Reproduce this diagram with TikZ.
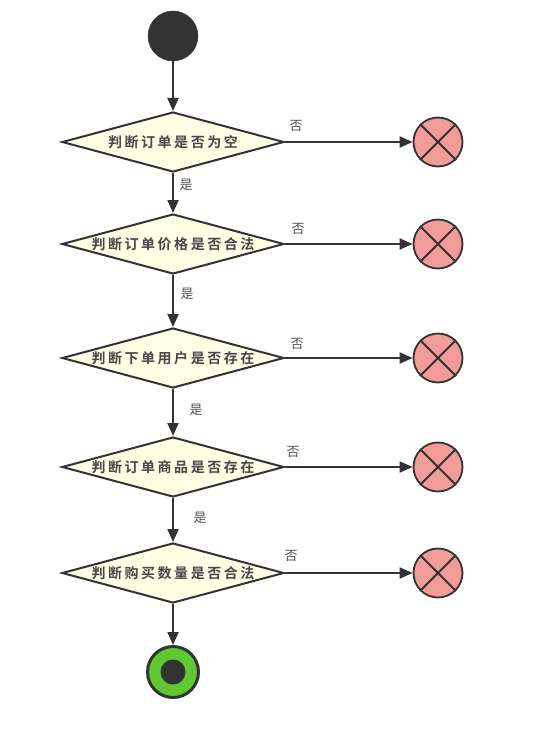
\documentclass[tikz,border=0pt]{standalone}
\usepackage{fontspec}
\newfontfamily\cjkb[LetterSpace=18]{Noto Sans CJK SC Bold}
\newfontfamily\cjk{Noto Sans CJK SC}
\usetikzlibrary{shapes.geometric,arrows.meta}
\definecolor{dk}{HTML}{333333}
\definecolor{ivory}{HTML}{FFFFE6}
\definecolor{pinkx}{HTML}{F19C99}
\definecolor{grn}{HTML}{5FC932}
\tikzset{
  decision/.style={diamond, draw=dk, line width=2pt, fill=ivory, inner sep=0pt,
    minimum width=222pt, minimum height=60pt, aspect=3.7,
    font=\cjkb\fontsize{14}{15}\selectfont, text=dk!90},
  startdot/.style={circle, fill=dk, draw=dk, minimum size=50pt, inner sep=0pt},
  stopx/.style={circle, fill=pinkx, draw=dk, line width=1.8pt, minimum size=49pt, inner sep=0pt},
  enddot/.style={circle, fill=grn, draw=dk, line width=3pt, minimum size=51pt, inner sep=0pt},
  innerdot/.style={circle, fill=dk, minimum size=25pt, inner sep=0pt},
  flow/.style={draw=dk, line width=2pt, -{Triangle[length=13pt,width=11pt]}},
  lbl/.style={font=\cjk\fontsize{13}{14}\selectfont, text=dk!85, inner sep=0pt}
}
\begin{document}
\begin{tikzpicture}[x=1pt,y=-1pt]
\useasboundingbox (0,0) rectangle (547,749);
\node[startdot] (s) at (173,36) {};
\node[decision] (d1) at (173,142) {判断订单是否为空};
\node[decision] (d2) at (173,244) {判断订单价格是否合法};
\node[decision] (d3) at (173,358) {判断下单用户是否存在};
\node[decision] (d4) at (173,467) {判断订单商品是否存在};
\node[decision] (d5) at (173,573) {判断购买数量是否合法};
\node[enddot] (e) at (173,672) {};
\node[innerdot] (ei) at (173,672) {};
\foreach \i/\y in {1/142,2/244,3/358,4/467,5/573}{
  \node[stopx] (x\i) at (438,\y) {};
  \draw[dk, line width=1.8pt] (x\i.north west) -- (x\i.south east) (x\i.north east) -- (x\i.south west);
  \draw[flow] (d\i.east) -- (x\i.west);
}
\draw[flow] (s) -- (d1.north);
\draw[flow] (d1.south) -- (d2.north);
\draw[flow] (d2.south) -- (d3.north);
\draw[flow] (d3.south) -- (d4.north);
\draw[flow] (d4.south) -- (d5.north);
\draw[flow] (d5.south) -- (e.north);
\node[lbl] (n1) at (296,126) {否};
\node[lbl] (n2) at (298,229) {否};
\node[lbl] (n3) at (297,344) {否};
\node[lbl] (n4) at (293,452) {否};
\node[lbl] (n5) at (291,556) {否};
\node[lbl] (y1) at (186,185) {是};
\node[lbl] (y2) at (187,294) {是};
\node[lbl] (y3) at (196,410) {是};
\node[lbl] (y4) at (200,518) {是};
\end{tikzpicture}
\end{document}
